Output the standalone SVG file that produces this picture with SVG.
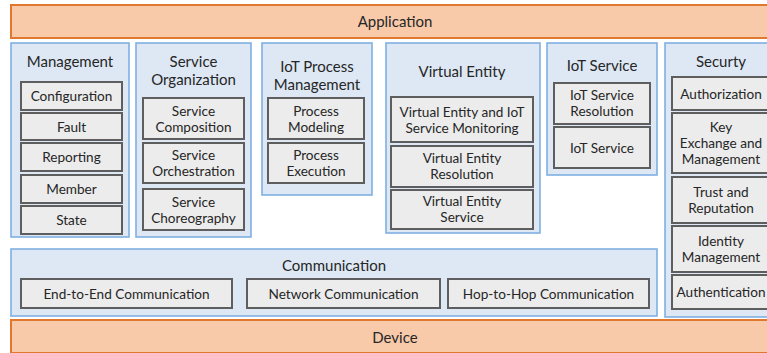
<svg xmlns="http://www.w3.org/2000/svg" width="767" height="353" viewBox="0 0 767 353">
  <style>
    text { font-family: Lato, "Liberation Sans", sans-serif; fill: #262626; text-anchor: middle; }
    .layer { fill: #f8caaa; stroke: #e0782f; stroke-width: 2; }
    .group { fill: #dde8f4; stroke: #7fb0e2; stroke-width: 1.6; }
    .item { fill: #ececec; stroke: #5e5e5e; stroke-width: 2; }
    .t { font-size: 15px; }
    .s { font-size: 13.6px; }
  </style>
  <rect width="767" height="353" fill="#ffffff"/>

  <!-- top and bottom layers -->
  <g id="application">
    <rect class="layer" x="11" y="5" width="770" height="33"/>
    <text class="t" x="395" y="27">Application</text>
  </g>
  <g id="device">
    <rect class="layer" x="11" y="320" width="770" height="33"/>
    <text class="t" x="395" y="342.5">Device</text>
  </g>

  <!-- Management -->
  <g id="management">
    <rect class="group" x="11" y="43" width="118" height="194"/>
    <text class="t" x="70" y="66.5">Management</text>
    <rect class="item" x="21" y="82" width="101" height="28"/>
    <text class="s" x="71.5" y="101">Configuration</text>
    <rect class="item" x="21" y="113" width="101" height="27"/>
    <text class="s" x="71.5" y="131.5">Fault</text>
    <rect class="item" x="21" y="143" width="101" height="28"/>
    <text class="s" x="71.5" y="162">Reporting</text>
    <rect class="item" x="21" y="175" width="101" height="28"/>
    <text class="s" x="71.5" y="194">Member</text>
    <rect class="item" x="21" y="206" width="101" height="28"/>
    <text class="s" x="71.5" y="225">State</text>
  </g>

  <!-- Service Organization -->
  <g id="service-organization">
    <rect class="group" x="136" y="43" width="115" height="194"/>
    <text class="t" x="193.5" y="66.5">Service</text>
    <text class="t" x="193.5" y="84.5">Organization</text>
    <rect class="item" x="143" y="98" width="101" height="41"/>
    <text class="s" x="193.5" y="115.5">Service</text>
    <text class="s" x="193.5" y="131.5">Composition</text>
    <rect class="item" x="143" y="143" width="101" height="40"/>
    <text class="s" x="193.5" y="160">Service</text>
    <text class="s" x="193.5" y="176">Orchestration</text>
    <rect class="item" x="143" y="189" width="101" height="41"/>
    <text class="s" x="193.5" y="206.5">Service</text>
    <text class="s" x="193.5" y="222.5">Choreography</text>
  </g>

  <!-- IoT Process Management -->
  <g id="iot-process-management">
    <rect class="group" x="262" y="43" width="110" height="152"/>
    <text class="t" x="317" y="71.5">IoT Process</text>
    <text class="t" x="317" y="89.5">Management</text>
    <rect class="item" x="268" y="98" width="96" height="41"/>
    <text class="s" x="316" y="115.5">Process</text>
    <text class="s" x="316" y="131.5">Modeling</text>
    <rect class="item" x="268" y="143" width="96" height="40"/>
    <text class="s" x="316" y="160">Process</text>
    <text class="s" x="316" y="176">Execution</text>
  </g>

  <!-- Virtual Entity -->
  <g id="virtual-entity">
    <rect class="group" x="386" y="43" width="154" height="190"/>
    <text class="t" x="462" y="76.5">Virtual Entity</text>
    <rect class="item" x="391" y="97" width="142" height="45"/>
    <text class="s" x="462" y="116.5">Virtual Entity and IoT</text>
    <text class="s" x="462" y="132.5">Service Monitoring</text>
    <rect class="item" x="391" y="146" width="142" height="41"/>
    <text class="s" x="462" y="163">Virtual Entity</text>
    <text class="s" x="462" y="179">Resolution</text>
    <rect class="item" x="391" y="190" width="142" height="39"/>
    <text class="s" x="462" y="206">Virtual Entity</text>
    <text class="s" x="462" y="222">Service</text>
  </g>

  <!-- IoT Service -->
  <g id="iot-service">
    <rect class="group" x="547" y="43" width="110" height="132"/>
    <text class="t" x="602" y="71">IoT Service</text>
    <rect class="item" x="554" y="83" width="96" height="41"/>
    <text class="s" x="602" y="100">IoT Service</text>
    <text class="s" x="602" y="116">Resolution</text>
    <rect class="item" x="554" y="127" width="96" height="41"/>
    <text class="s" x="602" y="152.5">IoT Service</text>
  </g>

  <!-- Security -->
  <g id="security">
    <rect class="group" x="665" y="43" width="120" height="274"/>
    <text class="t" x="721" y="66.5">Securty</text>
    <rect class="item" x="672" y="77" width="110" height="33"/>
    <text class="s" x="721" y="98.5">Authorization</text>
    <rect class="item" x="672" y="113" width="110" height="60"/>
    <text class="s" x="721" y="132">Key</text>
    <text class="s" x="721" y="148">Exchange and</text>
    <text class="s" x="721" y="164">Management</text>
    <rect class="item" x="672" y="177" width="110" height="46"/>
    <text class="s" x="721" y="197">Trust and</text>
    <text class="s" x="721" y="213">Reputation</text>
    <rect class="item" x="672" y="226" width="110" height="46"/>
    <text class="s" x="721" y="246">Identity</text>
    <text class="s" x="721" y="262">Management</text>
    <rect class="item" x="672" y="275" width="110" height="34"/>
    <text class="s" x="721" y="297">Authentication</text>
  </g>

  <!-- Communication -->
  <g id="communication">
    <rect class="group" x="11" y="249" width="646" height="67"/>
    <text class="t" x="334" y="270.5">Communication</text>
    <rect class="item" x="21" y="279" width="211" height="29"/>
    <text class="s" x="126.5" y="298.5">End-to-End Communication</text>
    <rect class="item" x="247" y="279" width="193" height="29"/>
    <text class="s" x="343.5" y="298.5">Network Communication</text>
    <rect class="item" x="448" y="279" width="201" height="29"/>
    <text class="s" x="548.5" y="298.5">Hop-to-Hop Communication</text>
  </g>

  <!-- no connectors in this layered diagram -->
  <g id="connectors"/>
</svg>
